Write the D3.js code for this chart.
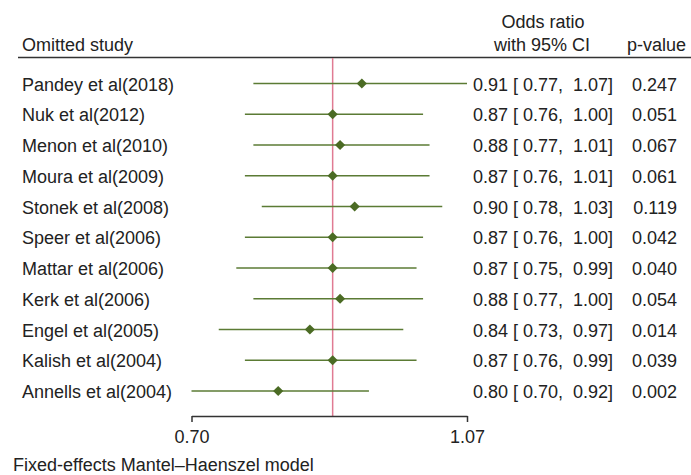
<!DOCTYPE html>
<html>
<head>
<meta charset="utf-8">
<script src="https://cdn.jsdelivr.net/npm/d3@7"></script>
<style>
  body { margin: 0; background: #fff; }
  svg { font-family: "Liberation Sans", Arial, sans-serif; }
  text { white-space: pre; }
</style>
</head>
<body>
<div class="chart"></div>
<script>
const studies = ["Pandey et al(2018)", "Nuk et al(2012)", "Menon et al(2010)", "Moura et al(2009)",
  "Stonek et al(2008)", "Speer et al(2006)", "Mattar et al(2006)", "Kerk et al(2006)",
  "Engel et al(2005)", "Kalish et al(2004)", "Annells et al(2004)"];
const oddsRatio = [0.91, 0.87, 0.88, 0.87, 0.90, 0.87, 0.87, 0.88, 0.84, 0.87, 0.80];
const lower = [0.77, 0.76, 0.77, 0.76, 0.78, 0.76, 0.75, 0.77, 0.73, 0.76, 0.70];
const upper = [1.07, 1.00, 1.01, 1.01, 1.03, 1.00, 0.99, 1.00, 0.97, 0.99, 0.92];
const pValues = ["0.247", "0.051", "0.067", "0.061", "0.119", "0.042", "0.040", "0.054", "0.014", "0.039", "0.002"];
const overall = 0.87;
const tickValues = [0.70, 1.07];

const width = 691, height = 475;
const green = "#5b7b34", darkGreen = "#4b6b24", red = "#e07b93", ink = "#222";

const svg = d3.select(".chart").append("svg")
    .attr("width", width)
    .attr("height", height);

const x = d3.scaleLog().domain([0.70, 1.07]).range([191.5, 467]);
const y = d3.scalePoint().domain(studies).range([83.5, 391]);

const data = studies.map((s, i) => ({
  study: s, or: oddsRatio[i], lo: lower[i], hi: upper[i], p: pValues[i]
}));

// headers
svg.append("text").attr("x", 22).attr("y", 51).attr("font-size", 18).attr("fill", ink).text("Omitted study");
svg.append("text").attr("x", 543).attr("y", 28).attr("font-size", 18).attr("fill", ink)
    .attr("text-anchor", "middle").text("Odds ratio");
svg.append("text").attr("x", 590).attr("y", 51).attr("font-size", 18).attr("fill", ink)
    .attr("text-anchor", "end").text("with 95% CI");
svg.append("text").attr("x", 686).attr("y", 51).attr("font-size", 18).attr("fill", ink)
    .attr("text-anchor", "end").text("p-value");
svg.append("line").attr("x1", 18).attr("x2", 691).attr("y1", 57.5).attr("y2", 57.5)
    .attr("stroke", "#333").attr("stroke-width", 1.6);

// overall estimate line
svg.append("line")
    .attr("x1", x(overall)).attr("x2", x(overall))
    .attr("y1", 58).attr("y2", 416)
    .attr("stroke", red).attr("stroke-width", 1.5);

// CI lines
svg.selectAll(".ci")
    .data(data)
    .enter()
    .append("line")
    .attr("class", "ci")
    .attr("x1", d => x(d.lo))
    .attr("x2", d => x(d.hi))
    .attr("y1", d => y(d.study))
    .attr("y2", d => y(d.study))
    .attr("stroke", green)
    .attr("stroke-width", 1.5);

// diamonds
svg.selectAll(".pt")
    .data(data)
    .enter()
    .append("path")
    .attr("class", "pt")
    .attr("d", d3.symbol(d3.symbolDiamond2, 66))
    .attr("transform", d => `translate(${x(d.or)},${y(d.study)})`)
    .attr("fill", darkGreen);

// row labels
svg.selectAll(".lab")
    .data(data)
    .enter()
    .append("text")
    .attr("class", "lab")
    .attr("x", 22)
    .attr("y", d => y(d.study) + 7)
    .attr("font-size", 18)
    .attr("fill", ink)
    .text(d => d.study);

const f = d3.format(".2f");
svg.selectAll(".ortext")
    .data(data)
    .enter()
    .append("text")
    .attr("class", "ortext")
    .attr("x", 473)
    .attr("y", d => y(d.study) + 7)
    .attr("font-size", 18)
    .attr("fill", ink)
    .text(d => `${f(d.or)} [ ${f(d.lo)},  ${f(d.hi)}]`);

svg.selectAll(".ptext")
    .data(data)
    .enter()
    .append("text")
    .attr("class", "ptext")
    .attr("x", 677)
    .attr("y", d => y(d.study) + 7)
    .attr("font-size", 18)
    .attr("fill", ink)
    .attr("text-anchor", "end")
    .text(d => d.p);

// axis
const xAxis = d3.axisBottom(x)
    .tickValues(tickValues)
    .tickFormat(d3.format(".2f"))
    .tickSize(6)
    .tickSizeOuter(0)
    .tickPadding(8);
const ax = svg.append("g")
    .attr("transform", "translate(0,416)")
    .call(xAxis);
ax.select(".domain").attr("stroke", "#333").attr("stroke-width", 1.5);
ax.selectAll(".tick line").attr("stroke", "#333").attr("stroke-width", 1.5);
ax.selectAll(".tick text").attr("font-size", 18).attr("fill", ink)
    .attr("font-family", "'Liberation Sans', Arial, sans-serif");

svg.append("text").attr("x", 13).attr("y", 471).attr("font-size", 18).attr("fill", ink)
    .text("Fixed-effects Mantel–Haenszel model");
</script>
</body>
</html>
